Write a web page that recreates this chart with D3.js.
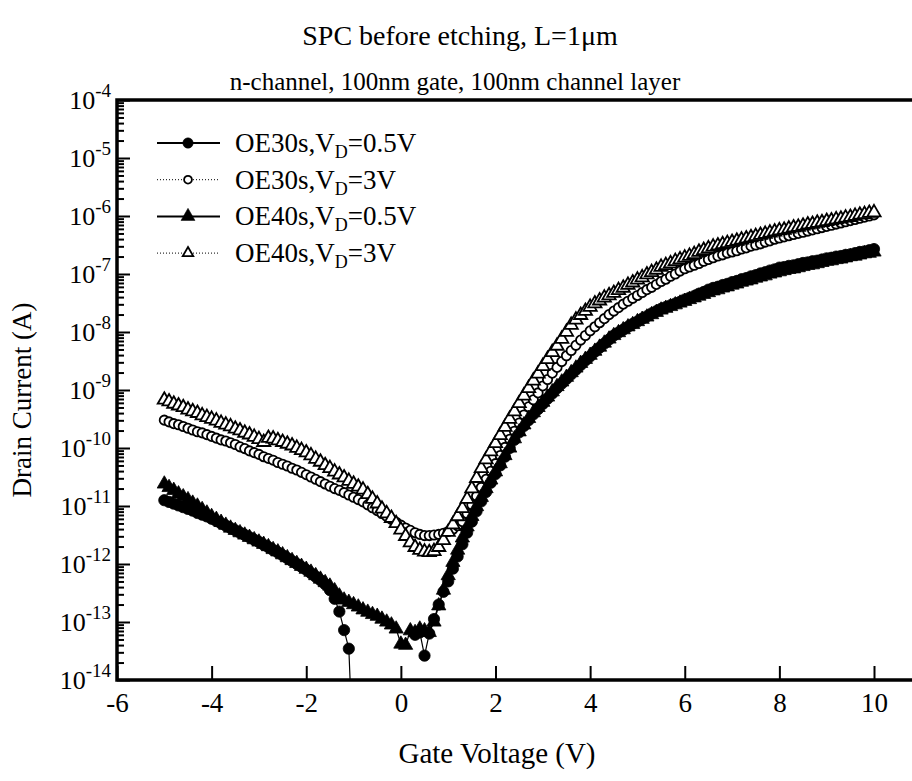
<!DOCTYPE html>
<html><head><meta charset="utf-8">
<script src="https://cdn.jsdelivr.net/npm/d3@7"></script>
<style>
html,body{margin:0;padding:0;background:#fff;}
svg{display:block;}
</style></head><body>
<svg id="chart" width="912" height="781"></svg>
<script>
// ---------------- DATA ----------------
const gateVoltage = [
-5.0,-4.9,-4.8,-4.7,-4.6,-4.5,-4.4,-4.3,-4.2,-4.1,
-4.0,-3.9,-3.8,-3.7,-3.6,-3.5,-3.4,-3.3,-3.2,-3.1,
-3.0,-2.9,-2.8,-2.7,-2.6,-2.5,-2.4,-2.3,-2.2,-2.1,
-2.0,-1.9,-1.8,-1.7,-1.6,-1.5,-1.4,-1.3,-1.2,-1.1,
-1.0,-0.9,-0.8,-0.7,-0.6,-0.5,-0.4,-0.3,-0.2,-0.1,
0.0,0.1,0.2,0.3,0.4,0.5,0.6,0.7,0.8,0.9,
1.0,1.1,1.2,1.3,1.4,1.5,1.6,1.7,1.8,1.9,
2.0,2.1,2.2,2.3,2.4,2.5,2.6,2.7,2.8,2.9,
3.0,3.1,3.2,3.3,3.4,3.5,3.6,3.7,3.8,3.9,
4.0,4.1,4.2,4.3,4.4,4.5,4.6,4.7,4.8,4.9,
5.0,5.1,5.2,5.3,5.4,5.5,5.6,5.7,5.8,5.9,
6.0,6.1,6.2,6.3,6.4,6.5,6.6,6.7,6.8,6.9,
7.0,7.1,7.2,7.3,7.4,7.5,7.6,7.7,7.8,7.9,
8.0,8.1,8.2,8.3,8.4,8.5,8.6,8.7,8.8,8.9,
9.0,9.1,9.2,9.3,9.4,9.5,9.6,9.7,9.8,9.9,
10.0];

// log10 of drain current (A); null = not plotted (negative current)
const logI_OE30s_VD05 = [
-10.90,-10.93,-10.96,-10.99,-11.02,-11.05,-11.08,-11.12,-11.15,-11.18,
-11.22,-11.26,-11.30,-11.34,-11.38,-11.42,-11.46,-11.50,-11.54,-11.58,
-11.62,-11.67,-11.71,-11.76,-11.80,-11.85,-11.90,-11.95,-12.00,-12.05,
-12.10,-12.16,-12.22,-12.28,-12.35,-12.45,-12.60,-12.82,-13.14,-13.46,
-15.5,null,null,null,null,null,null,null,null,null,
null,null,null,-13.22,-13.18,-13.58,-13.20,-12.95,-12.70,-12.48,
-12.30,-12.08,-11.87,-11.66,-11.46,-11.27,-11.09,-10.92,-10.76,-10.60,
-10.45,-10.30,-10.15,-10.00,-9.86,-9.73,-9.62,-9.52,-9.42,-9.33,
-9.24,-9.15,-9.06,-8.97,-8.89,-8.81,-8.73,-8.65,-8.57,-8.49,
-8.42,-8.34,-8.27,-8.20,-8.13,-8.06,-8.01,-7.96,-7.91,-7.86,
-7.82,-7.77,-7.73,-7.68,-7.64,-7.60,-7.57,-7.54,-7.51,-7.48,
-7.44,-7.41,-7.38,-7.34,-7.31,-7.27,-7.24,-7.22,-7.19,-7.17,
-7.14,-7.12,-7.09,-7.07,-7.04,-7.02,-6.99,-6.97,-6.94,-6.92,
-6.89,-6.88,-6.86,-6.85,-6.83,-6.81,-6.80,-6.78,-6.77,-6.75,
-6.73,-6.72,-6.70,-6.69,-6.67,-6.66,-6.64,-6.62,-6.61,-6.59,
-6.57];

const logI_OE30s_VD3 = [
-9.52,-9.55,-9.58,-9.60,-9.63,-9.66,-9.69,-9.72,-9.74,-9.77,
-9.80,-9.83,-9.86,-9.88,-9.91,-9.94,-9.98,-10.01,-10.05,-10.08,
-10.11,-10.15,-10.18,-10.21,-10.25,-10.28,-10.31,-10.35,-10.38,-10.42,
-10.46,-10.50,-10.54,-10.58,-10.62,-10.66,-10.70,-10.73,-10.77,-10.81,
-10.85,-10.89,-10.93,-10.98,-11.03,-11.08,-11.13,-11.18,-11.23,-11.28,
-11.33,-11.38,-11.42,-11.46,-11.49,-11.51,-11.51,-11.50,-11.49,-11.47,
-11.44,-11.40,-11.34,-11.27,-11.13,-10.98,-10.83,-10.68,-10.54,-10.40,
-10.27,-10.13,-9.99,-9.85,-9.71,-9.57,-9.43,-9.29,-9.17,-9.05,
-8.93,-8.82,-8.71,-8.61,-8.51,-8.41,-8.32,-8.23,-8.14,-8.06,
-7.98,-7.91,-7.84,-7.77,-7.70,-7.64,-7.58,-7.52,-7.47,-7.42,
-7.37,-7.32,-7.27,-7.23,-7.18,-7.13,-7.09,-7.04,-7.00,-6.95,
-6.91,-6.88,-6.85,-6.82,-6.78,-6.75,-6.72,-6.69,-6.67,-6.64,
-6.62,-6.60,-6.57,-6.55,-6.52,-6.50,-6.48,-6.45,-6.43,-6.40,
-6.38,-6.36,-6.34,-6.32,-6.30,-6.28,-6.26,-6.24,-6.22,-6.20,
-6.18,-6.16,-6.14,-6.12,-6.10,-6.08,-6.06,-6.04,-6.02,-6.00,
-5.98];

const logI_OE40s_VD05 = [
-10.62,-10.68,-10.73,-10.79,-10.84,-10.89,-10.95,-11.00,-11.06,-11.12,
-11.18,-11.23,-11.28,-11.33,-11.38,-11.42,-11.46,-11.50,-11.54,-11.58,
-11.62,-11.66,-11.70,-11.75,-11.79,-11.84,-11.89,-11.94,-11.99,-12.04,
-12.09,-12.14,-12.20,-12.26,-12.32,-12.38,-12.46,-12.55,-12.62,-12.66,
-12.70,-12.74,-12.79,-12.83,-12.87,-12.90,-12.95,-13.00,-13.05,-13.12,
-13.38,-13.40,-13.15,-13.18,-13.12,-13.15,-13.18,-13.00,-12.72,-12.45,
-12.20,-11.97,-11.76,-11.55,-11.36,-11.18,-11.01,-10.85,-10.70,-10.55,
-10.41,-10.27,-10.13,-10.00,-9.84,-9.72,-9.60,-9.49,-9.39,-9.30,
-9.21,-9.12,-9.03,-8.94,-8.86,-8.78,-8.70,-8.62,-8.54,-8.47,
-8.40,-8.33,-8.26,-8.19,-8.12,-8.06,-8.01,-7.96,-7.91,-7.87,
-7.82,-7.78,-7.74,-7.70,-7.66,-7.62,-7.59,-7.56,-7.53,-7.50,
-7.47,-7.44,-7.41,-7.38,-7.35,-7.32,-7.29,-7.27,-7.24,-7.22,
-7.19,-7.17,-7.14,-7.12,-7.10,-7.07,-7.05,-7.03,-7.00,-6.98,
-6.96,-6.94,-6.92,-6.91,-6.89,-6.87,-6.85,-6.84,-6.82,-6.80,
-6.78,-6.77,-6.75,-6.74,-6.72,-6.70,-6.69,-6.67,-6.65,-6.64,
-6.62];

const logI_OE40s_VD3 = [
-9.17,-9.20,-9.24,-9.27,-9.30,-9.34,-9.37,-9.40,-9.44,-9.47,
-9.50,-9.53,-9.57,-9.60,-9.63,-9.67,-9.70,-9.74,-9.77,-9.81,
-9.85,-9.90,-9.83,-9.84,-9.87,-9.90,-9.93,-9.96,-10.00,-10.04,
-10.08,-10.13,-10.19,-10.24,-10.30,-10.35,-10.41,-10.46,-10.51,-10.57,
-10.62,-10.67,-10.72,-10.80,-10.88,-10.96,-11.05,-11.13,-11.21,-11.30,
-11.41,-11.52,-11.63,-11.71,-11.76,-11.79,-11.80,-11.78,-11.71,-11.59,
-11.45,-11.32,-11.18,-11.04,-10.88,-10.70,-10.52,-10.35,-10.20,-10.06,
-9.92,-9.78,-9.64,-9.50,-9.37,-9.23,-9.10,-8.97,-8.84,-8.72,
-8.59,-8.47,-8.35,-8.24,-8.12,-8.00,-7.88,-7.79,-7.71,-7.64,
-7.57,-7.51,-7.46,-7.41,-7.37,-7.33,-7.28,-7.24,-7.19,-7.15,
-7.10,-7.06,-7.01,-6.97,-6.93,-6.88,-6.85,-6.82,-6.78,-6.75,
-6.72,-6.69,-6.66,-6.62,-6.59,-6.56,-6.53,-6.51,-6.49,-6.47,
-6.45,-6.43,-6.41,-6.39,-6.37,-6.35,-6.33,-6.31,-6.29,-6.27,
-6.25,-6.24,-6.22,-6.20,-6.19,-6.17,-6.15,-6.14,-6.12,-6.11,
-6.09,-6.08,-6.06,-6.05,-6.03,-6.02,-6.00,-5.98,-5.97,-5.95,
-5.94];

const seriesLabels = ["OE30s,V", "OE30s,V", "OE40s,V", "OE40s,V"];
const seriesDrainVoltage = ["=0.5V", "=3V", "=0.5V", "=3V"];
const xTickValues = [-6, -4, -2, 0, 2, 4, 6, 8, 10];
const yTickExponents = [-4, -5, -6, -7, -8, -9, -10, -11, -12, -13, -14];
const titleText = "SPC before etching, L=1\u03bcm";
const subtitleText = "n-channel, 100nm gate, 100nm channel layer";
const xAxisTitle = "Gate Voltage (V)";
const yAxisTitle = "Drain Current (A)";

// ---------------- CHART ----------------
const FONT = "'Liberation Serif','Times New Roman',Tinos,'DejaVu Serif','Noto Serif',serif";
const svg = d3.select("#chart").attr("font-family", FONT);
const PL = 117, PR = 912, PT = 100, PB = 680;
const x = d3.scaleLinear().domain([-6, 10]).range([117, 874]);
const y = d3.scaleLog().domain([1e-14, 1e-4]).range([PB, PT]);

function txt(sel) { return sel.attr("font-family", FONT).style("font-family", FONT).attr("fill", "#000"); }

const series = [
  {values: logI_OE30s_VD05, shape: d3.symbolCircle,   filled: true,  dotted: false, size: 100},
  {values: logI_OE30s_VD3,  shape: d3.symbolCircle,   filled: false, dotted: true,  size: 68},
  {values: logI_OE40s_VD05, shape: d3.symbolTriangle, filled: true,  dotted: false, size: 88},
  {values: logI_OE40s_VD3,  shape: d3.symbolTriangle, filled: false, dotted: true,  size: 76}
];

svg.append("defs").append("clipPath").attr("id", "plotclip")
  .append("rect").attr("x", PL).attr("y", PT).attr("width", PR - PL).attr("height", PB - PT);

const plot = svg.append("g").attr("clip-path", "url(#plotclip)");

series.forEach(s => {
  const pts = gateVoltage.map((v, i) => [v, s.values[i] == null ? null : Math.pow(10, s.values[i])]);
  const line = d3.line().defined(d => d[1] != null).x(d => x(d[0])).y(d => y(d[1]));
  plot.append("path").datum(pts)
    .attr("d", line).attr("fill", "none").attr("stroke", "#000")
    .attr("stroke-width", 1.2).attr("stroke-dasharray", s.dotted ? "1,2" : null);
  const sym = d3.symbol().type(s.shape).size(s.size);
  plot.append("g").selectAll("path")
    .data(pts.filter(d => d[1] != null && d[1] >= 1e-14))
    .join("path")
    .attr("d", sym)
    .attr("transform", d => `translate(${x(d[0])},${y(d[1])})`)
    .attr("fill", s.filled ? "#000" : "#fff")
    .attr("stroke", "#000")
    .attr("stroke-width", s.filled ? 0.8 : 1.8);
});

// axes
const yMajorVals = yTickExponents.map(e => Math.pow(10, e));
const yMinorVals = [];
yTickExponents.forEach(e => { if (e > -14) for (let k = 2; k <= 9; k++) yMinorVals.push(k * Math.pow(10, e - 1)); });

const yMajorAxis = svg.append("g").attr("transform", `translate(${PL},0)`)
  .call(d3.axisLeft(y).tickValues(yMajorVals).tickSize(-13).tickFormat(() => ""));
const yMinorAxis = svg.append("g").attr("transform", `translate(${PL},0)`)
  .call(d3.axisLeft(y).tickValues(yMinorVals).tickSize(-7).tickFormat(() => ""));
[yMajorAxis, yMinorAxis].forEach(g => { g.select(".domain").remove(); g.selectAll("line").attr("stroke", "#000").attr("stroke-width", 2); });

yTickExponents.forEach(e => {
  const t = txt(svg.append("text")).attr("x", 111).attr("y", y(Math.pow(10, e)) + 9)
    .attr("text-anchor", "end").style("font-size", "26px");
  t.append("tspan").text("10");
  t.append("tspan").attr("dy", -12).style("font-size", "19px").text(String(e));
});

const xAxis = svg.append("g").attr("transform", `translate(0,${PB})`)
  .call(d3.axisBottom(x).tickValues(xTickValues).tickSize(-14).tickPadding(13).tickFormat(d => String(d)));
xAxis.select(".domain").remove();
xAxis.selectAll("line").attr("stroke", "#000").attr("stroke-width", 2);
txt(xAxis.selectAll("text")).style("font-size", "27px");

// frame
svg.append("path").attr("d", `M${PR},${PT}H${PL}V${PB}H${PR}`)
  .attr("fill", "none").attr("stroke", "#000").attr("stroke-width", 3.5);

// titles
txt(svg.append("text")).attr("x", 460).attr("y", 45).attr("text-anchor", "middle").style("font-size", "28px").text(titleText);
txt(svg.append("text")).attr("x", 455).attr("y", 90).attr("text-anchor", "middle").style("font-size", "25px").text(subtitleText);
txt(svg.append("text")).attr("x", 497).attr("y", 763).attr("text-anchor", "middle").style("font-size", "29px").text(xAxisTitle);
txt(svg.append("text")).attr("transform", "translate(31,400) rotate(-90)").attr("text-anchor", "middle").style("font-size", "27px").text(yAxisTitle);

// legend
series.forEach((s, i) => {
  const ry = 143 + i * 36.7;
  svg.append("line").attr("x1", 157).attr("x2", 220).attr("y1", ry).attr("y2", ry)
    .attr("stroke", "#000").attr("stroke-width", s.dotted ? 1 : 2).attr("stroke-dasharray", s.dotted ? "1,2" : null);
  svg.append("path").attr("d", d3.symbol().type(s.shape).size(s.filled ? 85 : 48)())
    .attr("transform", `translate(188,${ry})`)
    .attr("fill", s.filled ? "#000" : "#fff").attr("stroke", "#000").attr("stroke-width", s.filled ? 0.5 : 1.8);
  const t = txt(svg.append("text")).attr("x", 235).attr("y", ry + 9).style("font-size", "27px");
  t.append("tspan").text(seriesLabels[i]);
  t.append("tspan").attr("dy", 6).style("font-size", "18px").text("D");
  t.append("tspan").attr("dy", -6).text(seriesDrainVoltage[i]);
});
</script>
</body></html>
